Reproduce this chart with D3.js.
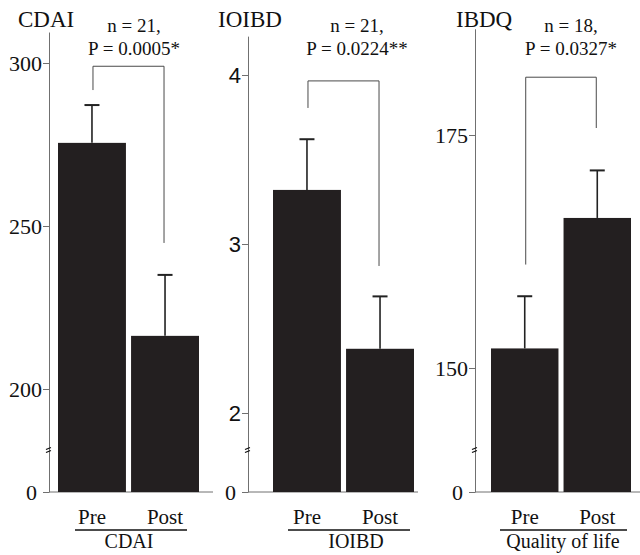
<!DOCTYPE html>
<html>
<head>
<meta charset="utf-8">
<script src="https://cdn.jsdelivr.net/npm/d3@7"></script>
<style>
  body { margin: 0; background: #fff; }
  svg { display: block; font-family: 'Liberation Serif', 'Times New Roman', serif; }
</style>
</head>
<body>
<svg id="chart"></svg>
<script>
// values
const categories = ['Pre', 'Post'];
const panelTitles = ['CDAI', 'IOIBD', 'IBDQ'];
const groupLabels = ['CDAI', 'IOIBD', 'Quality of life'];
const meanValues = [[275.5, 216.3], [3.32, 2.38], [152.1, 166.1]];
const errorValues = [[287.1, 235.0], [3.62, 2.69], [157.7, 171.2]];
const tickValues = [[0, 200, 250, 300], [0, 2, 3, 4], [0, 150, 175]];
const axisMax = [309.5, 4.23, 186.4];
const nLabels = ['n = 21,', 'n = 21,', 'n = 18,'];
const pLabels = ['P = 0.0005*', 'P = 0.0224**', 'P = 0.0327*'];
// comparison bracket: [top, end of Pre leg, end of Post leg]
const brackets = [[299, 291.7, 244.8], [3.965, 3.805, 2.87], [181.2, 161.1, 175.75]];

class BarPanel {

    constructor(_config, _data) {
        this.config = {
            parent: _config.parent,
            axisX: _config.axisX,
            barRange: _config.barRange,
            ref: _config.ref,          // two values shown on the unbroken part of the axis
            refPx: _config.refPx,      // ...and where they sit
            baseline: 492,
            breakGap: 42,
            baseEnd: _config.baseEnd,
            titleX: _config.titleX,
            noteX: _config.noteX,
            underline: _config.underline,
            groupX: _config.groupX,
            tickFont: _config.tickFont
        }
        this.data = _data;
        this.initVis();
    }

    initVis() {
        let vis = this;
        let c = vis.config;

        // piecewise scale: 0 sits on the baseline, the rest of the axis is broken above it
        let lin = d3.scaleLinear().domain(c.ref).range(c.refPx);
        vis.yScale = d3.scaleLinear()
            .domain([0, c.ref[0], vis.data.max])
            .range([c.baseline, c.refPx[0], lin(vis.data.max)]);

        vis.xScale = d3.scaleBand()
            .domain(categories)
            .range(c.barRange)
            .paddingInner(0.07)
            .paddingOuter(0);

        vis.g = c.parent.append('g');
        vis.renderVis();
    }

    renderVis() {
        let vis = this;
        let c = vis.config;
        let d = vis.data;
        let y = vis.yScale, x = vis.xScale;

        // baseline
        vis.g.append('line')
            .attr('x1', c.axisX).attr('x2', c.baseEnd)
            .attr('y1', c.baseline).attr('y2', c.baseline)
            .attr('stroke', '#707070').attr('stroke-width', 1);

        // bars
        vis.g.selectAll('.bar')
            .data(d.means)
            .join('rect')
                .attr('class', 'bar')
                .attr('x', (v, i) => x(categories[i]))
                .attr('width', x.bandwidth())
                .attr('y', v => y(v))
                .attr('height', v => y(0) - y(v))
                .attr('fill', '#231f20');

        // error bars
        let err = vis.g.selectAll('.err')
            .data(d.errors)
            .join('g')
                .attr('class', 'err')
                .attr('transform', (v, i) => `translate(${x(categories[i]) + x.bandwidth() / 2},0)`);
        err.append('line')
            .attr('y1', (v, i) => y(d.means[i])).attr('y2', v => y(v))
            .attr('stroke', '#222').attr('stroke-width', 1.6);
        err.append('line')
            .attr('x1', -7.5).attr('x2', 7.5)
            .attr('y1', v => y(v)).attr('y2', v => y(v))
            .attr('stroke', '#222').attr('stroke-width', 2);

        // bracket
        let bx0 = x('Pre') + x.bandwidth() / 2 + 1;
        let bx1 = x('Post') + x.bandwidth() / 2 - 1;
        vis.g.append('path')
            .attr('d', `M${bx0},${y(d.bracket[1])}V${y(d.bracket[0])}H${bx1}V${y(d.bracket[2])}`)
            .attr('fill', 'none').attr('stroke', '#4a4a4a').attr('stroke-width', 1);

        // axis
        let yAxis = d3.axisLeft(y)
            .tickValues(d.ticks)
            .tickFormat(d3.format('d'))
            .tickSize(6)
            .tickSizeOuter(0)
            .tickPadding(1);
        let axisG = vis.g.append('g')
            .attr('transform', `translate(${c.axisX},0)`)
            .call(yAxis);
        axisG.attr('font-family', null).attr('font-size', null);
        axisG.select('.domain').attr('stroke', '#707070');
        axisG.selectAll('.tick line').attr('stroke', '#707070');
        axisG.selectAll('.tick text')
            .attr('fill', '#111')
            .style('font-size', '22px')
            .style('font-family', v => v === 0 ? "'Liberation Serif', serif" : c.tickFont)
            .attr('x', v => v === 0 ? -12 : -7);

        // break mark on the axis
        let by = c.baseline - c.breakGap;
        [-1.5, 1.5].forEach(off => {
            vis.g.append('line')
                .attr('x1', c.axisX - 3).attr('x2', c.axisX + 2)
                .attr('y1', by + off + 1).attr('y2', by + off - 1)
                .attr('stroke', '#111').attr('stroke-width', 1.2);
        });

        // titles and notes
        vis.g.append('text')
            .attr('x', c.titleX).attr('y', 27)
            .style('font-size', '23px').attr('fill', '#111')
            .text(d.title);
        vis.g.append('text')
            .attr('x', c.noteX).attr('y', 32)
            .attr('text-anchor', 'middle').style('font-size', '19px').attr('fill', '#111')
            .text(d.n);
        vis.g.append('text')
            .attr('x', c.noteX).attr('y', 55)
            .attr('text-anchor', 'middle').style('font-size', '19px').attr('fill', '#111')
            .text(d.p);

        // category labels
        vis.g.selectAll('.cat')
            .data(categories)
            .join('text')
                .attr('class', 'cat')
                .attr('x', v => x(v) + x.bandwidth() / 2)
                .attr('y', 524)
                .attr('text-anchor', 'middle').style('font-size', '21px').attr('fill', '#111')
                .text(v => v);
        vis.g.append('line')
            .attr('x1', c.underline[0]).attr('x2', c.underline[1])
            .attr('y1', 530).attr('y2', 530)
            .attr('stroke', '#111').attr('stroke-width', 1.4);
        vis.g.append('text')
            .attr('x', c.groupX).attr('y', 548)
            .attr('text-anchor', 'middle').style('font-size', '20px').attr('fill', '#111')
            .text(d.group);
    }
}

const svg = d3.select('#chart').attr('width', 640).attr('height', 555);

const layouts = [
    { axisX: 49, barRange: [58, 199], ref: [200, 300], refPx: [389, 63], baseEnd: 213,
      titleX: 18, noteX: 134, underline: [75, 187], groupX: 129, tickFont: "'Liberation Serif', serif" },
    { axisX: 248, barRange: [273, 414], ref: [2, 4], refPx: [413, 75], baseEnd: 418,
      titleX: 218, noteX: 357, underline: [288, 410], groupX: 356, tickFont: "'Liberation Sans', sans-serif" },
    { axisX: 475, barRange: [491, 631], ref: [150, 175], refPx: [368, 135], baseEnd: 640,
      titleX: 456, noteX: 571, underline: [500, 627], groupX: 563, tickFont: "'Liberation Serif', serif" }
];

layouts.forEach((l, i) => {
    new BarPanel(Object.assign({ parent: svg }, l), {
        title: panelTitles[i],
        group: groupLabels[i],
        means: meanValues[i],
        errors: errorValues[i],
        ticks: tickValues[i],
        max: axisMax[i],
        n: nLabels[i],
        p: pLabels[i],
        bracket: brackets[i]
    });
});
</script>
</body>
</html>
